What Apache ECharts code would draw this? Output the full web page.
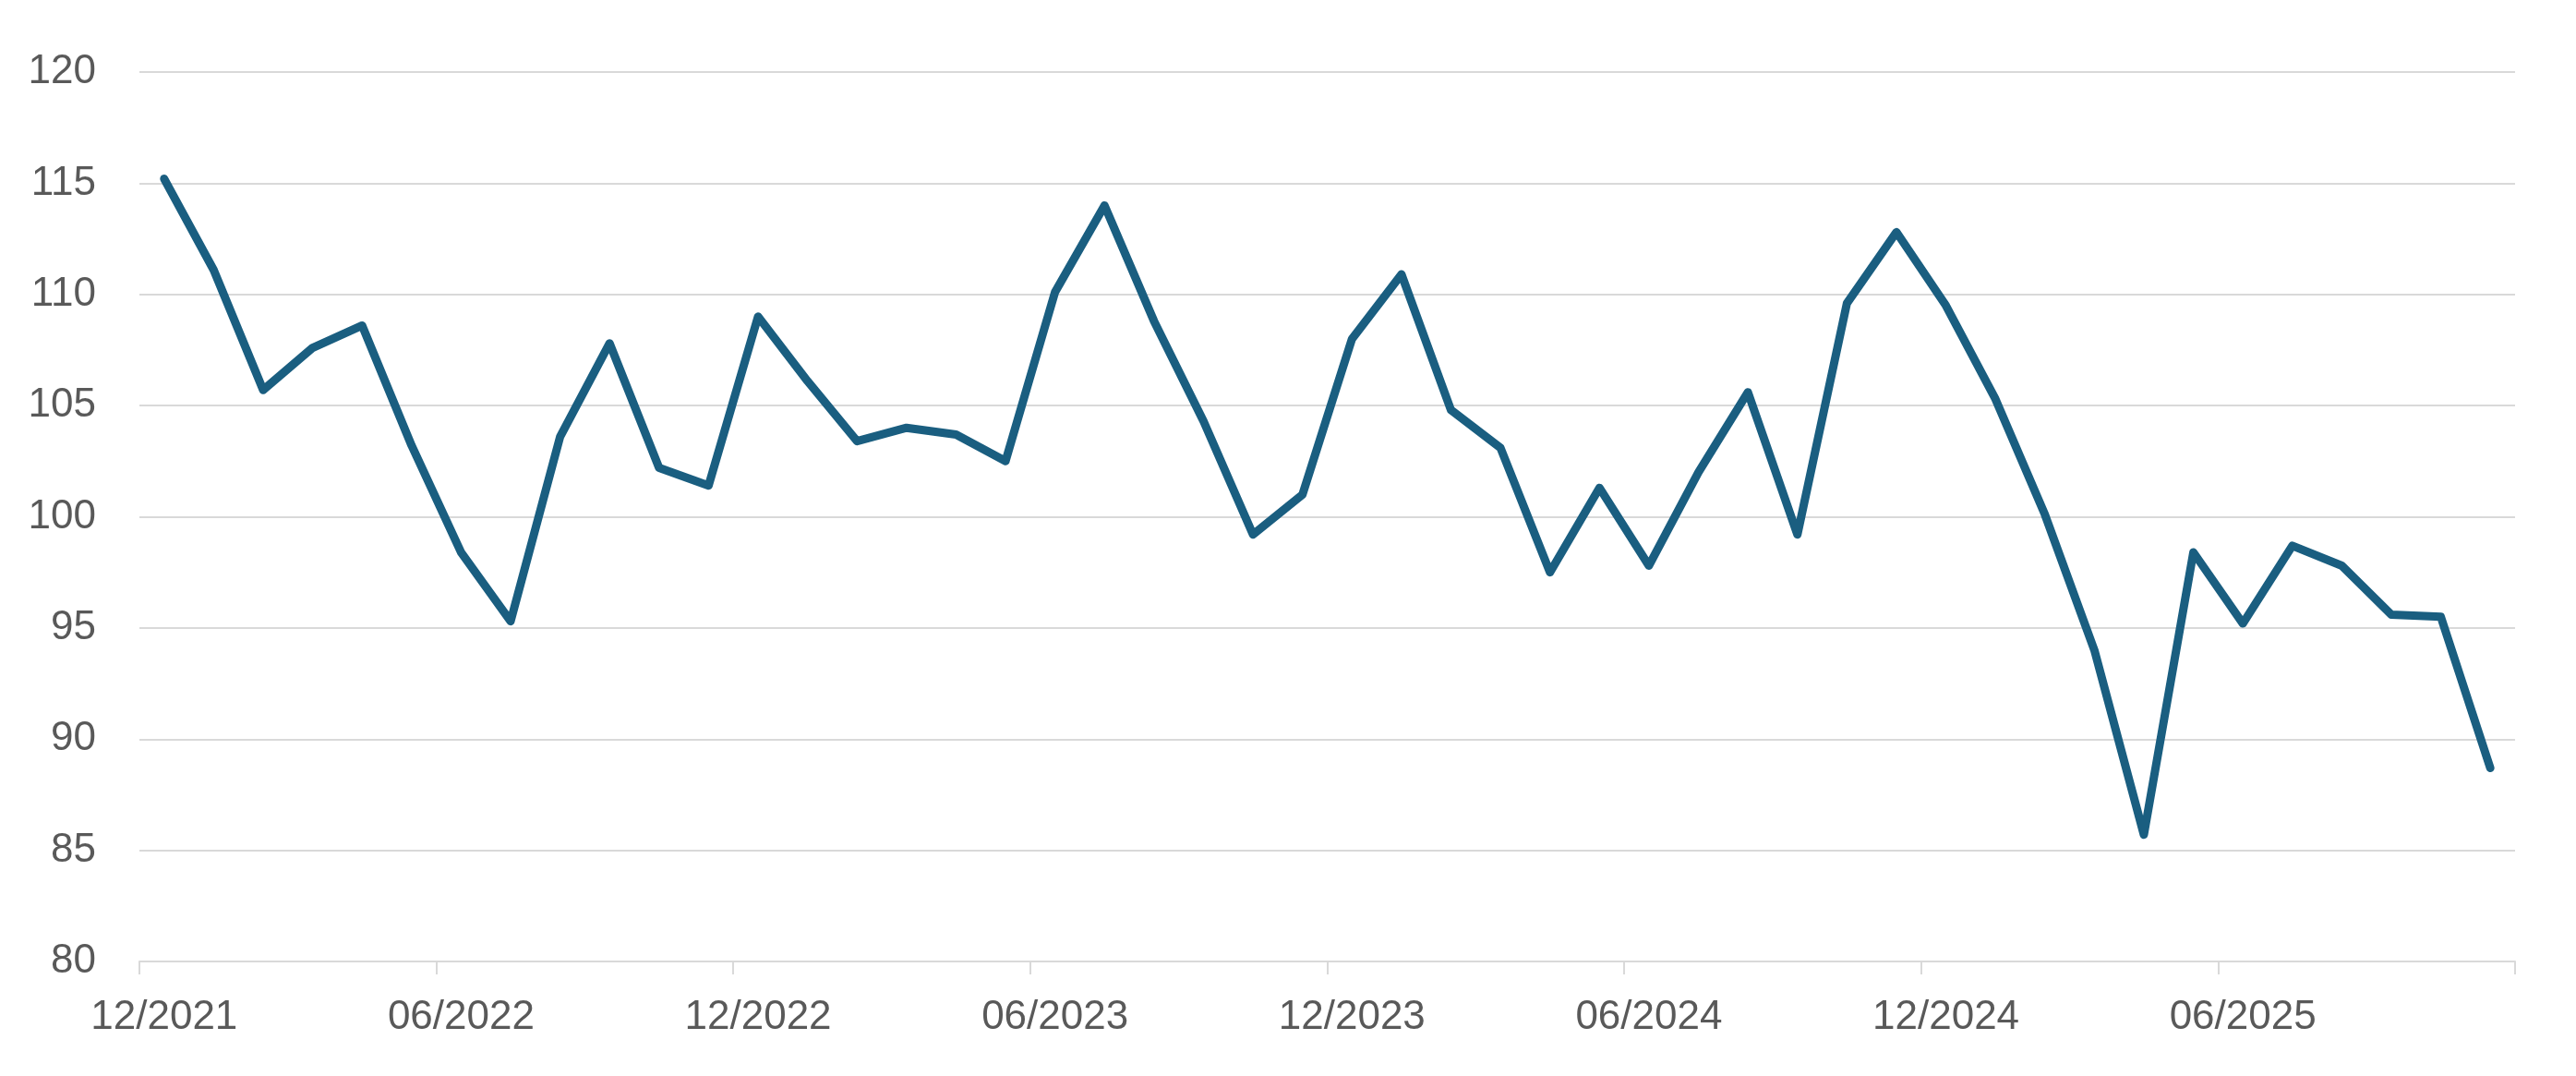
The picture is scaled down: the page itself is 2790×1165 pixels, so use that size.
<!DOCTYPE html>
<html>
<head>
<meta charset="utf-8">
<script src="https://cdn.jsdelivr.net/npm/echarts@6/dist/echarts.min.js"></script>
<style>
html,body{margin:0;padding:0;background:#fff;}
#chart{width:2790px;height:1165px;}
</style>
</head>
<body>
<div id="chart"></div>
<script>
const categories = [
  "12/2021","01/2022","02/2022","03/2022","04/2022","05/2022","06/2022","07/2022","08/2022","09/2022","10/2022","11/2022",
  "12/2022","01/2023","02/2023","03/2023","04/2023","05/2023","06/2023","07/2023","08/2023","09/2023","10/2023","11/2023",
  "12/2023","01/2024","02/2024","03/2024","04/2024","05/2024","06/2024","07/2024","08/2024","09/2024","10/2024","11/2024",
  "12/2024","01/2025","02/2025","03/2025","04/2025","05/2025","06/2025","07/2025","08/2025","09/2025","10/2025","11/2025"
];
const values = [
  115.2,111.1,105.7,107.6,108.6,103.2,98.4,95.3,103.6,107.8,102.2,101.4,
  109.0,106.1,103.4,104.0,103.7,102.5,110.1,114.0,108.8,104.3,99.2,101.0,
  108.0,110.9,104.8,103.1,97.5,101.3,97.8,102.0,105.6,99.2,109.6,112.8,
  109.5,105.3,100.1,94.0,85.7,98.4,95.2,98.7,97.8,95.6,95.5,88.7
];
const yMin = 80, yMax = 120, yStep = 5;

const chart = echarts.init(document.getElementById('chart'), null, {renderer:'canvas'});
chart.setOption({
  animation:false,
  backgroundColor:'#ffffff',
  grid:{left:151,right:66,top:78,bottom:124,containLabel:false},
  xAxis:{
    type:'category',
    data:categories,
    boundaryGap:true,
    axisLine:{show:true,lineStyle:{color:'#d9d9d9',width:2}},
    axisTick:{show:true,interval:5,length:14,lineStyle:{color:'#d9d9d9',width:2}},
    axisLabel:{interval:5,color:'#595959',fontFamily:'Liberation Sans',fontSize:44,margin:39},
    splitLine:{show:false}
  },
  yAxis:{
    type:'value',
    min:yMin,max:yMax,interval:yStep,
    axisLine:{show:false},
    axisTick:{show:false},
    axisLabel:{color:'#595959',fontFamily:'Liberation Sans',fontSize:44,margin:47},
    splitLine:{show:true,lineStyle:{color:'#d9d9d9',width:2}}
  },
  series:[{
    type:'line',
    data:values,
    symbol:'none',
    lineStyle:{color:'#1a5e80',width:9,cap:'round',join:'round'},
    itemStyle:{color:'#1a5e80'}
  }]
});
</script>
</body>
</html>
